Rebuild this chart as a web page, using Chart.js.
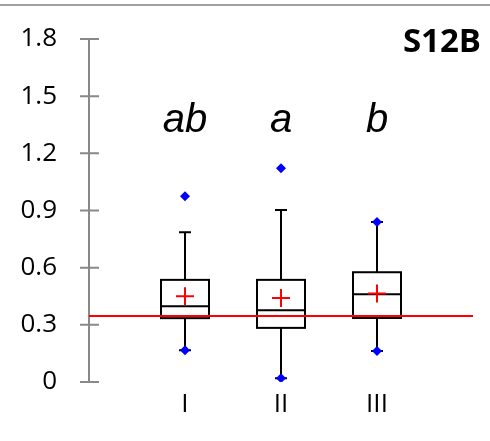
<!DOCTYPE html>
<html>
<head>
<meta charset="utf-8">
<script src="https://cdn.jsdelivr.net/npm/chart.js@4"></script>
<style>
  body { margin: 0; background: #fff; }
</style>
</head>
<body>
<canvas id="c" width="490" height="441"></canvas>
<script>
// values
var groups = ['I', 'II', 'III'];
var groupX = [1, 2, 3];
var q1 = [0.335, 0.284, 0.336];
var median = [0.398, 0.377, 0.460];
var q3 = [0.536, 0.536, 0.576];
var whiskerLow = [0.166, 0.020, 0.163];
var whiskerHigh = [0.786, 0.902, 0.840];
var means = [0.450, 0.441, 0.465];
var outliers = [[0.975, 0.166], [1.122, 0.020], [0.840, 0.163]];
var sigLetters = ['ab', 'a', 'b'];
var refValue = 0.347;
var yTicks = [0, 0.3, 0.6, 0.9, 1.2, 1.5, 1.8];

var AXIS_GREY = '#898989';
var TICK_FONT = {family: 'Open Sans', size: 26};

var boxPlugin = {
    id: 'boxes',
    beforeDatasetsDraw: function(chart) {
        var ctx = chart.ctx, xs = chart.scales.x, ys = chart.scales.y;
        var half = xs.getPixelForValue(1.25) - xs.getPixelForValue(1);
        var cap = 6;
        ctx.save();
        ctx.strokeStyle = '#000';
        ctx.lineWidth = 2;
        ctx.fillStyle = '#fff';
        for (var i = 0; i < groups.length; i++) {
            var cx = xs.getPixelForValue(groupX[i]);
            var yHi = ys.getPixelForValue(whiskerHigh[i]);
            var yLo = ys.getPixelForValue(whiskerLow[i]);
            var y3 = ys.getPixelForValue(q3[i]);
            var y1 = ys.getPixelForValue(q1[i]);
            var ym = ys.getPixelForValue(median[i]);
            ctx.beginPath();
            ctx.moveTo(cx, y3); ctx.lineTo(cx, yHi);
            ctx.moveTo(cx - cap, yHi); ctx.lineTo(cx + cap, yHi);
            ctx.moveTo(cx, y1); ctx.lineTo(cx, yLo);
            ctx.moveTo(cx - cap, yLo); ctx.lineTo(cx + cap, yLo);
            ctx.stroke();
            ctx.fillRect(cx - half, y3, half * 2, y1 - y3);
            ctx.strokeRect(cx - half, y3, half * 2, y1 - y3);
            ctx.beginPath();
            ctx.moveTo(cx - half, ym); ctx.lineTo(cx + half, ym);
            ctx.stroke();
        }
        // y tick marks crossing the axis
        ctx.strokeStyle = AXIS_GREY;
        ctx.beginPath();
        yTicks.forEach(function(v) {
            var y = ys.getPixelForValue(v);
            ctx.moveTo(ys.right - 9, y); ctx.lineTo(ys.right + 10, y);
        });
        ctx.stroke();
        ctx.restore();
    },
    afterDraw: function(chart) {
        var ctx = chart.ctx, xs = chart.scales.x, ys = chart.scales.y;
        ctx.save();
        ctx.fillStyle = '#000';
        ctx.textAlign = 'center';
        ctx.textBaseline = 'alphabetic';
        ctx.font = 'italic 40px "Liberation Sans"';
        for (var i = 0; i < sigLetters.length; i++) {
            ctx.fillText(sigLetters[i], xs.getPixelForValue(groupX[i]), ys.getPixelForValue(1.313));
        }
        ctx.font = 'bold 33px "Open Sans"';
        ctx.textAlign = 'right';
        ctx.fillText('S12B', 481, 52);
        // frame line at the top
        ctx.strokeStyle = '#a0a0a0';
        ctx.lineWidth = 2;
        ctx.beginPath();
        ctx.moveTo(0, 5); ctx.lineTo(chart.width, 5);
        ctx.stroke();
        ctx.restore();
    }
};

var meanPts = groupX.map(function(x, i) { return {x: x, y: means[i]}; });
var outPts = [];
groupX.forEach(function(x, i) {
    outliers[i].forEach(function(v) { outPts.push({x: x, y: v}); });
});

new Chart(document.getElementById('c'), {
    type: 'scatter',
    data: {
        datasets: [{
            label: 'mean',
            data: meanPts,
            pointStyle: 'cross',
            pointRadius: 9,
            borderColor: '#ff0000',
            borderWidth: 2,
        }, {
            label: 'outliers',
            data: outPts,
            pointStyle: 'rectRot',
            pointRadius: 5,
            backgroundColor: '#0000ff',
            borderColor: '#0000ff',
            borderWidth: 0,
        }, {
            label: 'ref',
            data: [{x: 0, y: refValue}, {x: 4, y: refValue}],
            showLine: true,
            borderColor: '#ff0000',
            borderWidth: 2,
            pointRadius: 0,
        }]
    },
    options: {
        responsive: false,
        animation: false,
        layout: {autoPadding: false, padding: {top: 39, right: 17, left: 0, bottom: 0}},
        plugins: {legend: {display: false}, tooltip: {enabled: false}},
        scales: {
            x: {
                type: 'linear',
                min: 0, max: 4,
                grid: {display: false, drawTicks: false},
                border: {display: false},
                afterBuildTicks: function(s) { s.ticks = groupX.map(function(v) { return {value: v}; }); },
                afterFit: function(s) { s.height = 59; },
                ticks: {
                    callback: function(v) { return groups[groupX.indexOf(v)]; },
                    font: TICK_FONT, color: '#000', padding: 7,
                    autoSkip: false, maxRotation: 0
                }
            },
            y: {
                min: 0, max: 1.8,
                // tick marks are drawn by the plugin; tickLength only spaces the labels
                grid: {display: false, drawTicks: true, tickLength: 32},
                border: {display: true, color: AXIS_GREY, width: 2},
                afterBuildTicks: function(s) { s.ticks = yTicks.map(function(v) { return {value: v}; }); },
                afterFit: function(s) { s.width = 89; },
                ticks: {
                    callback: function(v) { return String(v); },
                    font: TICK_FONT, color: '#000', padding: 0
                }
            }
        }
    },
    plugins: [boxPlugin]
});
</script>
</body>
</html>
